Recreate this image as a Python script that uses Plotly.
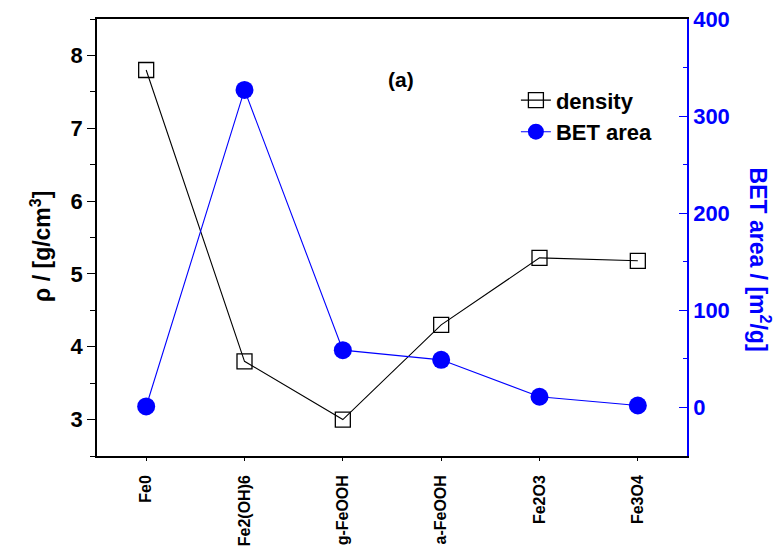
import plotly.graph_objects as go

categories = ["Fe0", "Fe2(OH)6", "g-FeOOH", "a-FeOOH", "Fe2O3", "Fe3O4"]
density = [7.8, 3.8, 3.0, 4.3, 5.22, 5.18]
bet_area = [1, 327, 59, 49, 11, 2]

FONT = "Liberation Sans, Arial, sans-serif"
BLUE = "#0000FF"

fig = go.Figure()
fig.add_trace(go.Scatter(
    x=categories, y=density, name="density", mode="lines+markers",
    line=dict(color="black", width=1.1),
    marker=dict(symbol="square-open", size=15, color="black", line=dict(width=1.3)),
    yaxis="y",
))
fig.add_trace(go.Scatter(
    x=categories, y=bet_area, name="BET area", mode="lines+markers",
    line=dict(color=BLUE, width=1.1),
    marker=dict(symbol="circle", size=18, color=BLUE),
    yaxis="y2",
))

# page body has an 8px default margin, so the figure is 8px smaller and offset
fig.update_layout(
    width=776, height=549,
    margin=dict(l=89, r=97, t=11, b=101, autoexpand=False),
    paper_bgcolor="white", plot_bgcolor="white",
    font=dict(family=FONT, color="black"),
    showlegend=True,
    legend=dict(
        x=0.71, y=0.862, xanchor="left", yanchor="top",
        bgcolor="rgba(0,0,0,0)", font=dict(size=22, weight="bold"),
        tracegroupgap=0,
    ),
    xaxis=dict(
        type="category", range=[-0.5, 5.5], automargin=False,
        showline=True, linecolor="black", linewidth=1.5, mirror=True,
        ticks="outside", ticklen=3, tickcolor="black",
        tickangle=-90, tickfont=dict(size=16, weight="bold"),
        ticklabelstandoff=8, ticklabeloverflow="allow",
        showgrid=False, zeroline=False,
    ),
    yaxis=dict(
        range=[2.5, 8.5], dtick=1, tick0=3, automargin=False,
        showline=True, linecolor="black", linewidth=1.5,
        ticks="outside", ticklen=8, tickwidth=1.3, tickcolor="black",
        minor=dict(dtick=0.5, ticks="outside", ticklen=5, tickcolor="black"),
        tickfont=dict(size=22, weight="bold"), ticklabeloverflow="allow",
        showgrid=False, zeroline=False,
    ),
    yaxis2=dict(
        overlaying="y", side="right", range=[-50, 400], dtick=100, tick0=0,
        automargin=False,
        showline=True, linecolor=BLUE, linewidth=1.5,
        ticks="inside", ticklen=8, tickwidth=1.3, tickcolor=BLUE,
        minor=dict(dtick=50, ticks="inside", ticklen=4, tickcolor=BLUE),
        tickfont=dict(size=22, weight="bold", color=BLUE),
        ticklabeloverflow="allow",
        showgrid=False, zeroline=False,
    ),
    annotations=[
        dict(text="ρ / [g/cm<sup>3</sup>]", xref="paper", yref="paper",
             x=-0.125, y=0.479, textangle=-90, showarrow=False,
             font=dict(size=23, weight="bold", color="black")),
        dict(text="BET area / [m<sup>2</sup>/g]", xref="paper", yref="paper",
             x=1.153, y=0.449, textangle=90, showarrow=False,
             font=dict(size=23, weight="bold", color=BLUE)),
        dict(text="(a)", xref="paper", yref="paper",
             x=0.489, y=0.893, xanchor="left", showarrow=False,
             font=dict(size=21, weight="bold", color="black")),
    ],
)

fig.write_html("out.html")
